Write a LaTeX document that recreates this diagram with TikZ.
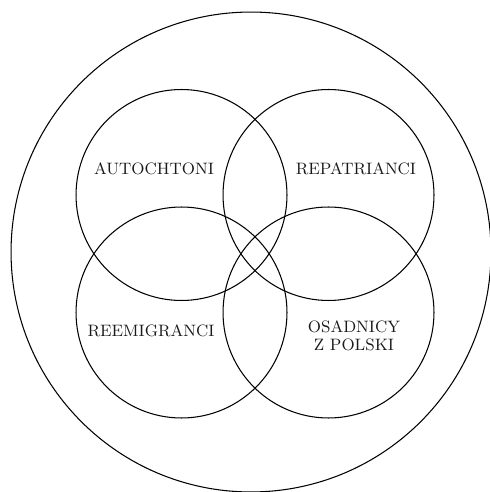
\documentclass[tikz,border=0pt]{standalone}
\usepackage{tikz}
\tikzset{
  group/.style={font=\fontsize{9.4}{10.4}\selectfont, align=center, text=black!90},
  ring/.style={line width=0.6pt}
}
\begin{document}
\begin{tikzpicture}[x=0.02cm, y=-0.02cm]
  \useasboundingbox (0,0) rectangle (489,492);

  \coordinate (O) at (251,252);
  \coordinate (A) at (181.5,195);
  \coordinate (R) at (328.5,195);
  \coordinate (E) at (181.5,312.5);
  \coordinate (S) at (328.5,312.5);

  \draw[ring] (O) circle (4.8cm);
  \draw[ring] (A) circle (2.11cm);
  \draw[ring] (R) circle (2.11cm);
  \draw[ring] (E) circle (2.11cm);
  \draw[ring] (S) circle (2.11cm);

  \node[group] (autochtoni) at (154,169) {AUTOCHTONI};
  \node[group] (repatrianci) at (356,169) {REPATRIANCI};
  \node[group] (reemigranci) at (151,331) {REEMIGRANCI};
  \node[group] (osadnicy) at (354,336) {OSADNICY\\Z POLSKI};
\end{tikzpicture}
\end{document}
